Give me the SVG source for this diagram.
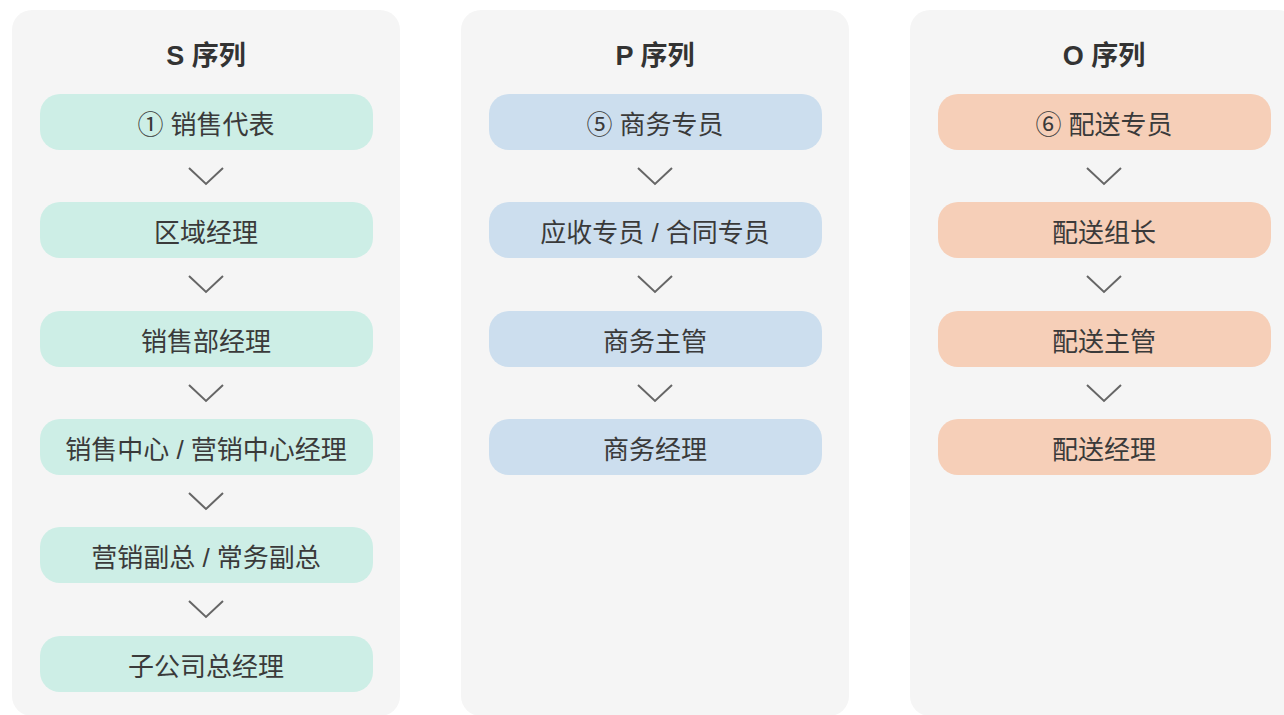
<svg xmlns="http://www.w3.org/2000/svg" width="1284" height="715" viewBox="0 0 1284 715">
<style>
.panel{fill:#f5f5f5}
.title{font-family:"Liberation Sans","Noto Sans CJK SC",sans-serif;font-size:27px;font-weight:bold;fill:#333;text-anchor:middle}
.lbl{font-family:"Liberation Sans","Noto Sans CJK SC",sans-serif;font-size:26px;fill:#3a3a3a;text-anchor:middle;dominant-baseline:central}
.s{fill:#cdeee6}
.p{fill:#ccdeee}
.o{fill:#f6cfb8}
.chev{fill:none;stroke:#666;stroke-width:2}
</style>
<rect width="1284" height="715" fill="#fff"/>
<g id="panel-s"><rect class="panel" x="12" y="10" width="388" height="706" rx="20"/><text class="title" x="206" y="65">S 序列</text></g>
<g id="panel-p"><rect class="panel" x="461" y="10" width="388" height="706" rx="20"/><text class="title" x="655" y="65">P 序列</text></g>
<g id="panel-o"><rect class="panel" x="910" y="10" width="388" height="706" rx="20"/><text class="title" x="1104" y="65">O 序列</text></g>

<g id="s1"><rect class="s" x="40" y="94" width="333" height="56" rx="20"/><text class="lbl" x="206" y="125">① 销售代表</text></g>
<g id="s2"><rect class="s" x="40" y="202" width="333" height="56" rx="20"/><text class="lbl" x="206" y="233">区域经理</text></g>
<g id="s3"><rect class="s" x="40" y="311" width="333" height="56" rx="20"/><text class="lbl" x="206" y="342">销售部经理</text></g>
<g id="s4"><rect class="s" x="40" y="419" width="333" height="56" rx="20"/><text class="lbl" x="206" y="450">销售中心 / 营销中心经理</text></g>
<g id="s5"><rect class="s" x="40" y="527" width="333" height="56" rx="20"/><text class="lbl" x="206" y="558">营销副总 / 常务副总</text></g>
<g id="s6"><rect class="s" x="40" y="636" width="333" height="56" rx="20"/><text class="lbl" x="206" y="667">子公司总经理</text></g>

<g id="p1"><rect class="p" x="489" y="94" width="333" height="56" rx="20"/><text class="lbl" x="655" y="125">⑤ 商务专员</text></g>
<g id="p2"><rect class="p" x="489" y="202" width="333" height="56" rx="20"/><text class="lbl" x="655" y="233">应收专员 / 合同专员</text></g>
<g id="p3"><rect class="p" x="489" y="311" width="333" height="56" rx="20"/><text class="lbl" x="655" y="342">商务主管</text></g>
<g id="p4"><rect class="p" x="489" y="419" width="333" height="56" rx="20"/><text class="lbl" x="655" y="450">商务经理</text></g>

<g id="o1"><rect class="o" x="938" y="94" width="333" height="56" rx="20"/><text class="lbl" x="1104" y="125">⑥ 配送专员</text></g>
<g id="o2"><rect class="o" x="938" y="202" width="333" height="56" rx="20"/><text class="lbl" x="1104" y="233">配送组长</text></g>
<g id="o3"><rect class="o" x="938" y="311" width="333" height="56" rx="20"/><text class="lbl" x="1104" y="342">配送主管</text></g>
<g id="o4"><rect class="o" x="938" y="419" width="333" height="56" rx="20"/><text class="lbl" x="1104" y="450">配送经理</text></g>

<g id="connectors">
<path class="chev" d="M189 168 L206 184 L223 168"/>
<path class="chev" d="M189 276 L206 292 L223 276"/>
<path class="chev" d="M189 385 L206 401 L223 385"/>
<path class="chev" d="M189 493 L206 509 L223 493"/>
<path class="chev" d="M189 601 L206 617 L223 601"/>
<path class="chev" d="M638 168 L655 184 L672 168"/>
<path class="chev" d="M638 276 L655 292 L672 276"/>
<path class="chev" d="M638 385 L655 401 L672 385"/>
<path class="chev" d="M1087 168 L1104 184 L1121 168"/>
<path class="chev" d="M1087 276 L1104 292 L1121 276"/>
<path class="chev" d="M1087 385 L1104 401 L1121 385"/>
</g>
</svg>
